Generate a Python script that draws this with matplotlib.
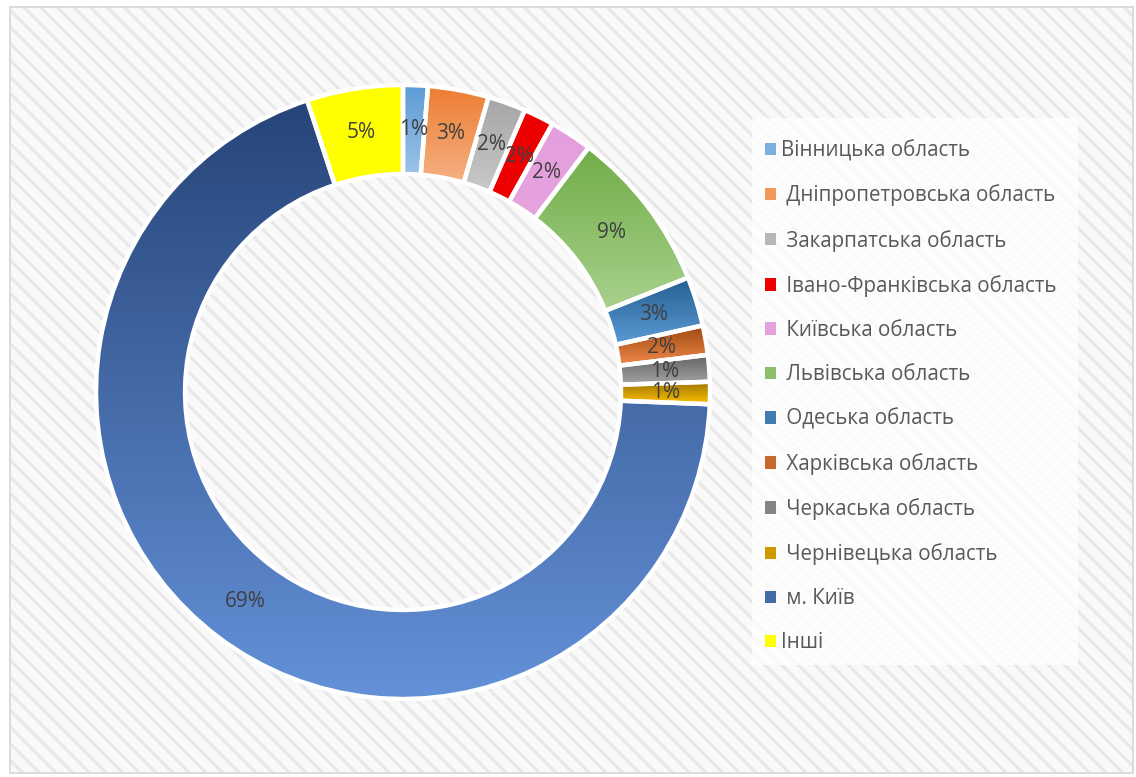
import numpy as np
import matplotlib
matplotlib.use("Agg")
import matplotlib.pyplot as plt
from matplotlib.patches import Rectangle, Patch
from matplotlib.colors import to_rgb

plt.rcParams['font.family'] = ['Open Sans', 'DejaVu Sans']
plt.rcParams['hatch.linewidth'] = 2.2

# Share of each region
regions = [
    "Вінницька область",
    " Дніпропетровська область",
    " Закарпатська область",
    " Івано-Франківська область",
    " Київська область",
    " Львівська область",
    " Одеська область",
    " Харківська область",
    " Черкаська область",
    " Чернівецька область",
    " м. Київ",
    "Інші",
]
shares = [1.3, 3.2, 2.0, 1.6, 2.25, 8.6, 2.6, 1.55, 1.4, 1.17, 69.4, 5.06]

# Gradient colours per wedge: (top, bottom)
grad_top = ["#5B9BD5", "#ED7D31", "#A5A5A5", "#EE0000", "#E49EDD", "#70AD47",
            "#255E91", "#9E480E", "#636363", "#997300", "#264478", "#FFFF00"]
grad_bottom = ["#9DC3E6", "#F4B183", "#C9C9C9", "#EE0000", "#E6A3DE", "#A9D18E",
               "#5B9BD5", "#F08A4B", "#A5A5A5", "#FFC000", "#6491D8", "#FFFF00"]

W, H = 1136, 777
fig = plt.figure(figsize=(W / 100, H / 100), dpi=100)
fig.patch.set_facecolor("white")

# Striped chart-area background and its thin frame
x0, y0, x1, y1 = 10, 7, 1133, 773
bg = Rectangle((x0 / W, 1 - y1 / H), (x1 - x0) / W, (y1 - y0) / H,
               transform=fig.transFigure, facecolor="#f9f9f9",
               edgecolor="#e8e8e8", hatch="\\\\", linewidth=0, zorder=-2)
fig.patches.append(bg)
frame = Rectangle((x0 / W, 1 - y1 / H), (x1 - x0) / W, (y1 - y0) / H,
                  transform=fig.transFigure, facecolor="none",
                  edgecolor="#d9d9d9", linewidth=1.3, zorder=-1)
fig.patches.append(frame)

# Translucent white panel behind the legend
lx0, ly0, lx1, ly1 = 752, 118, 1078, 665
panel = Rectangle((lx0 / W, 1 - ly1 / H), (lx1 - lx0) / W, (ly1 - ly0) / H,
                  transform=fig.transFigure, facecolor="white", alpha=0.75,
                  edgecolor="none", zorder=0)
fig.patches.append(panel)

# Square axes holding the donut
cx, cy, r = 403, 392, 307
ax = fig.add_axes([(cx - r) / W, (H - cy - r) / H, 2 * r / W, 2 * r / H])
ax.set_facecolor("none")
ax.set_zorder(1)

wedges, texts, autotexts = ax.pie(
    shares, startangle=90, counterclock=False, radius=1,
    colors=grad_top,
    autopct=lambda p: f"{p:.0f}%", pctdistance=0.855,
    wedgeprops=dict(width=0.29, edgecolor="white", linewidth=3.2),
    textprops=dict(color="#404040", fontsize=15),
)

for w, ct, cb in zip(wedges, grad_top, grad_bottom):
    path = w.get_path()
    bb = path.get_extents()
    t = np.linspace(0, 1, 256)[:, None, None]
    grad = (1 - t) * np.array(to_rgb(ct))[None, None, :] + t * np.array(to_rgb(cb))[None, None, :]
    im = ax.imshow(grad, extent=(bb.x0, bb.x1, bb.y0, bb.y1), origin="upper",
                   aspect="auto", interpolation="bilinear", zorder=2)
    im.set_clip_path(w)
    w.set_facecolor("none")
    w.set_zorder(3)

for t in autotexts:
    t.set_zorder(4)

ax.set_xlim(-1, 1)
ax.set_ylim(-1, 1)
ax.set_aspect("auto")
ax.axis("off")

# Legend
handles = []
for ct, cb in zip(grad_top, grad_bottom):
    mix = 0.5 * (np.array(to_rgb(ct)) + np.array(to_rgb(cb)))
    handles.append(Patch(facecolor=mix, edgecolor="none"))

leg = fig.legend(handles, regions, loc="upper left",
                 bbox_to_anchor=(765 / W, 1 - 140 / H),
                 bbox_transform=fig.transFigure,
                 fontsize=14.8, labelcolor="#595959",
                 frameon=False,
                 handlelength=0.55, handleheight=0.55, handletextpad=0.25,
                 labelspacing=1.13, borderpad=0, borderaxespad=0)

fig.savefig("out.png", dpi=100, facecolor="white")
